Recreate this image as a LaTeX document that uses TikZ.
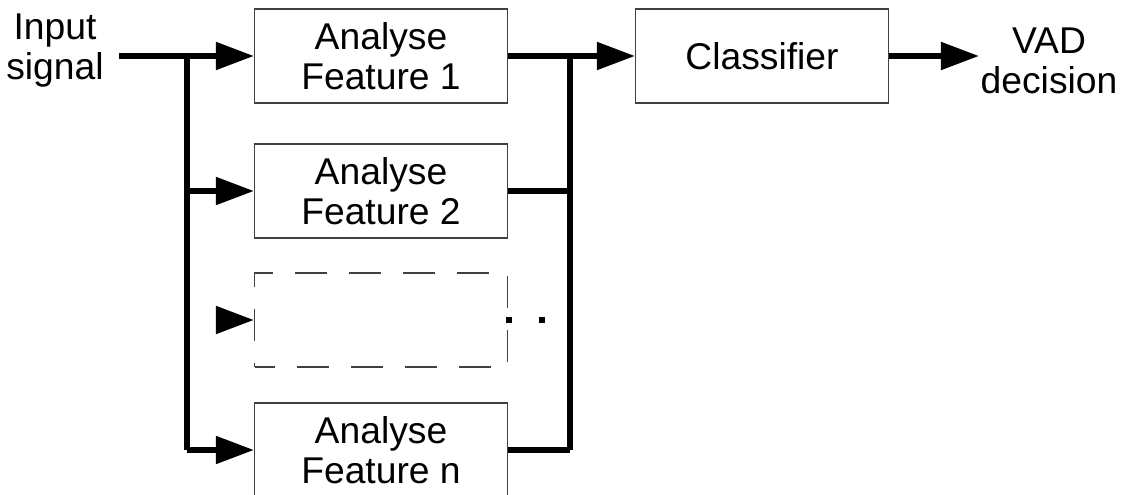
\documentclass[tikz,border=0pt]{standalone}
\usepackage{fontspec}
\setmainfont{Liberation Sans}
\usetikzlibrary{positioning,arrows.meta}
\colorlet{boxbrd}{black!75}
\colorlet{flowcol}{black}

\begin{document}
\begin{tikzpicture}[
  every node/.style={font=\fontsize{26.5}{28.5}\selectfont, align=center},
  feat/.style  ={draw=boxbrd, line width=0.8pt, fill=white,
                 minimum width=6.325cm, minimum height=2.35cm, inner sep=0pt},
  dbox/.style  ={draw=boxbrd, line width=0.8pt, dash pattern=on 0.8cm off 0.55cm,
                 dash phase=0.3cm, minimum width=6.325cm, minimum height=2.35cm},
  lbl/.style   ={inner sep=1pt},
  dot/.style   ={fill=black, inner sep=0pt, minimum size=0.14cm},
  flow/.style  ={-{Triangle[length=0.95cm,width=0.67cm]}, line width=4pt, flowcol},
  bus/.style   ={line width=4pt, flowcol},
]
\useasboundingbox (0,0) rectangle (28.125,12.35);

%% ── Input and output labels ──────────────────────────────────
\node[lbl] (in)  at (1.375,11.09) {Input\\signal};
\node[lbl] (out) at (26.225,10.83) {VAD\\decision};

%% ── Feature analysis column ─────────────────────────────────
\node[feat] (f1) at (9.525,10.95) {Analyse\\Feature 1};
\node[feat] (f2) at (9.525,7.575) {Analyse\\Feature 2};
\node[dbox] (fd) at (9.525,4.35)  {};
\node[feat] (fn) at (9.525,1.1)   {Analyse\\Feature n};

\node[dot] (d1) at (12.725,4.35) {};
\node[dot] (d2) at (13.55,4.35)  {};

%% ── Classifier ──────────────────────────────────────────────
\node[feat] (cls) at (19.05,10.95) {Classifier};

%% bus points
\coordinate (busl)  at (4.675,10.95);
\coordinate (busr)  at (14.25,10.95);
\coordinate (dstub) at (5.42,4.35);

%% input fan-out
\draw[flow] ([xshift=0.35cm]in.east |- f1.west) -- (f1.west);
\draw[bus]  (busl) -- (busl |- fn.west);
\draw[flow] (busl |- f2.west) -- (f2.west);
\draw[flow] (busl |- fn.west) -- (fn.west);
\draw[flow] (dstub) -- (fd.west);

%% collect into classifier
\draw[bus]  (f1.east) -- (busr);
\draw[bus]  (busr) -- (busr |- fn.east);
\draw[bus]  (f2.east) -- (busr |- f2.east);
\draw[bus]  (fn.east) -- (busr |- fn.east);
\draw[flow] (busr) -- (cls.west);

%% decision
\draw[flow] (cls.east) -- (out.west |- cls.east);

\end{tikzpicture}
\end{document}
